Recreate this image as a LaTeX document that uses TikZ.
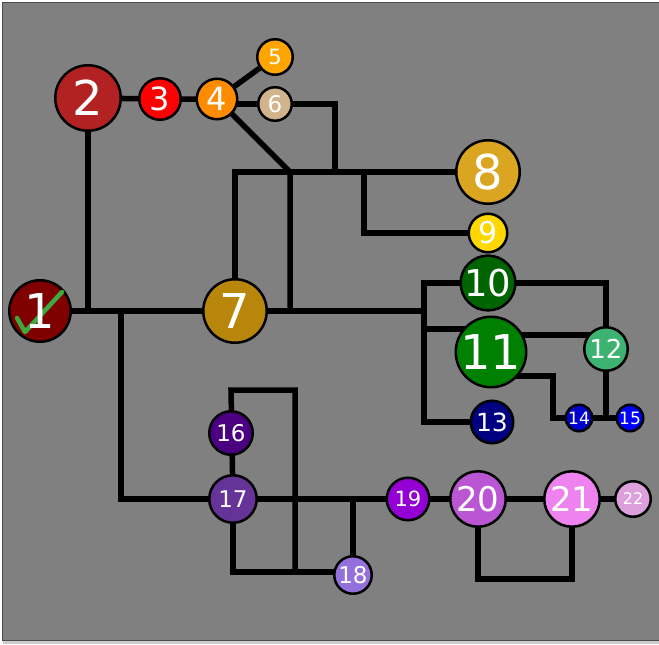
\documentclass[tikz,border=0pt]{standalone}
\usepackage{fontspec}
\setmainfont{DejaVu Sans}
\pgfdeclarelayer{back}
\pgfdeclarelayer{lines}
\pgfsetlayers{back,lines,main}
\definecolor{bggray}{HTML}{808080}
\definecolor{c1}{HTML}{800000}
\definecolor{c2}{HTML}{B22222}
\definecolor{c3}{HTML}{FF0000}
\definecolor{c4}{HTML}{FF8C00}
\definecolor{c5}{HTML}{FFA500}
\definecolor{c6}{HTML}{D2B48C}
\definecolor{c7}{HTML}{B8860B}
\definecolor{c8}{HTML}{DAA520}
\definecolor{c9}{HTML}{FFD700}
\definecolor{c10}{HTML}{006400}
\definecolor{c11}{HTML}{008000}
\definecolor{c12}{HTML}{3CB371}
\definecolor{c13}{HTML}{000080}
\definecolor{c14}{HTML}{0000CD}
\definecolor{c15}{HTML}{0000FF}
\definecolor{c16}{HTML}{4B0082}
\definecolor{c17}{HTML}{663399}
\definecolor{c18}{HTML}{9370DB}
\definecolor{c19}{HTML}{9400D3}
\definecolor{c20}{HTML}{BA55D3}
\definecolor{c21}{HTML}{EE82EE}
\definecolor{c22}{HTML}{DDA0DD}
\definecolor{checkgreen}{RGB}{60,170,60}
\begin{document}
\begin{tikzpicture}[x=1pt,y=-1pt,
  nd/.style n args={3}{circle,draw=black,line width=2.5pt,fill=#1,minimum size=#2,inner sep=0pt,text=white,font=\fontsize{#3}{#3}\selectfont},
  wire/.style={line width=5.5pt,draw=black,line join=miter},
  lbl/.style={text=white,inner sep=0pt,font=\fontsize{#1}{#1}\selectfont}]
\useasboundingbox (0,0) rectangle (659,645);
\begin{pgfonlayer}{back}
  \fill[white] (0,0) rectangle (659,645);
  \fill[black!20] (3,640) rectangle (659,644);
  \draw[fill=bggray,draw=black!70,line width=1pt] (2,2) rectangle (661,640);
\end{pgfonlayer}
% nodes
\node[nd={c1}{61.5}{48}] (n1) at (40,311) {};
\node[nd={c2}{65.5}{48}] (n2) at (88,98) {2};
\node[nd={c3}{41.5}{32}] (n3) at (160,99) {3};
\node[nd={c4}{40.5}{32}] (n4) at (217,99) {4};
\node[nd={c5}{35.5}{21}] (n5) at (275,57) {5};
\node[nd={c6}{33.5}{23}] (n6) at (275,104) {6};
\node[nd={c7}{63.5}{48}] (n7) at (235,311) {7};
\node[nd={c8}{63.5}{48}] (n8) at (488,172) {8};
\node[nd={c9}{38.5}{30}] (n9) at (488,233) {9};
\node[nd={c10}{45.5}{37}] (n10) at (488,283) {10};
\node[nd={c11}{67.5}{48}] (n11) at (491,352) {11};
\node[nd={c12}{43.5}{26}] (n12) at (606,349) {12};
\node[nd={c13}{42.5}{25}] (n13) at (492,422) {13};
\node[nd={c14}{26.5}{17}] (n14) at (579,418) {14};
\node[nd={c15}{26.5}{17}] (n15) at (630,418) {15};
\node[nd={c16}{43.5}{23}] (n16) at (231,433) {16};
\node[nd={c17}{47.5}{23}] (n17) at (233,499) {17};
\node[nd={c18}{37.5}{23}] (n18) at (353,575) {18};
\node[nd={c19}{42.5}{21}] (n19) at (408,499) {19};
\node[nd={c20}{55.5}{34}] (n20) at (478,499) {20};
\node[nd={c21}{55.5}{34}] (n21) at (572,499) {21};
\node[nd={c22}{35.5}{16}] (n22) at (633,499) {22};
% check mark and label of node 1
\draw[checkgreen,line width=4.5pt,line cap=round,line join=round] (17,318) -- (25,332) -- (62,292);
\node[lbl=48] (t1) at (n1.center) {1};
% junctions
\coordinate (ja) at (235,172);
\coordinate (jb) at (290,172);
\coordinate (jc) at (335,104);
\coordinate (jc2) at (335,172);
\coordinate (jd) at (364,172);
\coordinate (jd2) at (364,233);
\coordinate (je) at (290,311);
\coordinate (jf) at (88,311);
\coordinate (jg) at (121,311);
\coordinate (jg2) at (121,499);
\coordinate (jh) at (424,311);
\coordinate (jh1) at (424,283);
\coordinate (jh2) at (424,329);
\coordinate (jh3) at (424,422);
\coordinate (ji) at (491,329);
\coordinate (jk) at (606,283);
\coordinate (jl) at (491,335);
\coordinate (jl2) at (606,335);
\coordinate (jm) at (491,376);
\coordinate (jm2) at (553,376);
\coordinate (jm3) at (553,418);
\coordinate (jn) at (606,418);
\coordinate (jo) at (231,390);
\coordinate (jo2) at (295,390);
\coordinate (jo3) at (295,572);
\coordinate (jp) at (233,572);
\coordinate (jq) at (353,499);
\coordinate (jr) at (478,579);
\coordinate (jr2) at (572,579);
\begin{pgfonlayer}{lines}
  \draw[wire] (n2.center) -- (n3.center) -- (n4.center);
  \draw[wire] (n4.center) -- (n5.center);
  \draw[wire] (n4.center |- n6.center) -- (n6.center) -- (jc) -- (jc2);
  \draw[wire] (n4.center) -- (jb) -- (je);
  \draw[wire] (n7.center) -- (ja) -- (n8.center);
  \draw[wire] (jd) -- (jd2) -- (n9.center);
  \draw[wire] (n1.center) -- (n7.center) -- (jh);
  \draw[wire] (n2.center) -- (jf);
  \draw[wire] (jg) -- (jg2) -- (n17.center);
  \draw[wire] (n10.center) -- (jh1) -- (jh3) -- (n13.center);
  \draw[wire] (jh2) -- (ji);
  \draw[wire] (n10.center) -- (jk) -- (n12.center);
  \draw[wire] (jl) -- (jl2);
  \draw[wire] (jm) -- (jm2) -- (jm3) -- (n14.center);
  \draw[wire] (n14.center) -- (n15.center);
  \draw[wire] (jn) -- (n12.center);
  \draw[wire] (n17.center) -- (jo) -- (jo2) -- (jo3);
  \draw[wire] (n17.center) -- (jp) -- (n18.center |- jp);
  \draw[wire] (n17.center) -- (n19.center) -- (n20.center) -- (n21.center) -- (n22.center);
  \draw[wire] (jq) -- (n18.center);
  \draw[wire] (n20.center) -- (jr) -- (jr2) -- (n21.center);
\end{pgfonlayer}
\end{tikzpicture}
\end{document}
